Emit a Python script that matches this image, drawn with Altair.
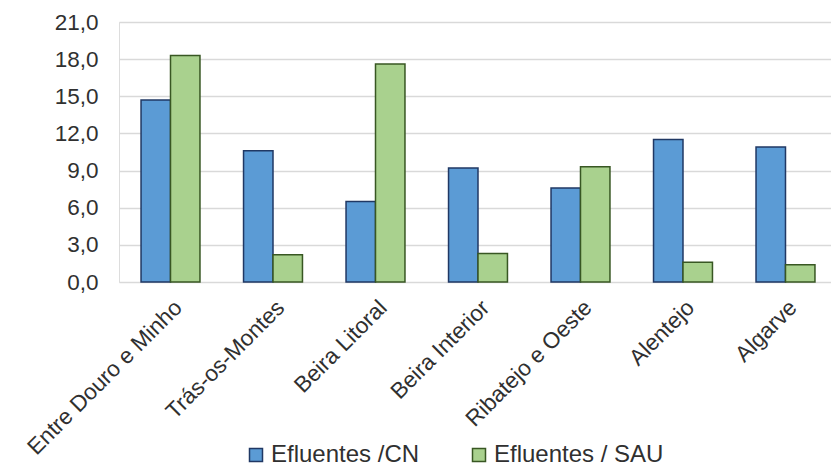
import altair as alt
import pandas as pd

regioes = ["Entre Douro e Minho", "Trás-os-Montes", "Beira Litoral", "Beira Interior",
           "Ribatejo e Oeste", "Alentejo", "Algarve"]
efluentes_cn = [14.7, 10.6, 6.5, 9.2, 7.6, 11.5, 10.9]
efluentes_sau = [18.3, 2.2, 17.6, 2.3, 9.3, 1.6, 1.4]
series = ["Efluentes /CN", "Efluentes / SAU"]

rows = []
for r, a, b in zip(regioes, efluentes_cn, efluentes_sau):
    rows.append({"regiao": r, "serie": series[0], "valor": a})
    rows.append({"regiao": r, "serie": series[1], "valor": b})
df = pd.DataFrame(rows)

FONT = "Liberation Sans"
TXT = "#303030"

chart = (
    alt.Chart(df)
    .mark_bar(strokeWidth=1.5)
    .encode(
        x=alt.X("regiao:N", sort=regioes,
                scale=alt.Scale(range=[0, 718], paddingInner=0.425, paddingOuter=0.215),
                axis=alt.Axis(title=None, labelAngle=-45, labelFontSize=22.5, labelFont=FONT,
                              labelColor=TXT, ticks=False, domain=False, labelPadding=14,
                              labelLimit=400)),
        xOffset=alt.XOffset("serie:N", sort=series),
        y=alt.Y("valor:Q",
                scale=alt.Scale(domain=[0, 21], nice=False),
                axis=alt.Axis(title=None, values=[0, 3, 6, 9, 12, 15, 18, 21], format=".1f",
                              labelFontSize=22.5, labelFont=FONT, labelColor=TXT,
                              ticks=False, domain=False, labelPadding=21,
                              gridColor="#D9D9D9", gridWidth=1.5)),
        fill=alt.Color("serie:N", sort=series,
                       scale=alt.Scale(domain=series, range=["#5B9BD5", "#A9D18E"]),
                       legend=alt.Legend(title=None, orient="none", direction="horizontal",
                                         legendX=125, legendY=421, symbolType="square",
                                         symbolSize=169, symbolStrokeWidth=1.5,
                                         labelFontSize=24, labelFont=FONT, labelColor=TXT,
                                         labelLimit=400, columnPadding=47, labelOffset=3)),
        stroke=alt.Stroke("serie:N", sort=series,
                          scale=alt.Scale(domain=series, range=["#203864", "#385723"]),
                          legend=None),
    )
    .properties(width=712, height=260)
    .configure_view(stroke=None)
    .configure(locale={"number": {"decimal": ",", "thousands": ".", "grouping": [3],
                                  "currency": ["", " €"]}})
    .properties(autosize=alt.AutoSizeParams(type="none"),
                padding={"left": 119, "top": 22, "right": 0, "bottom": 185})
)

chart.save("out.html", embed_options={"renderer": "svg", "actions": False})
